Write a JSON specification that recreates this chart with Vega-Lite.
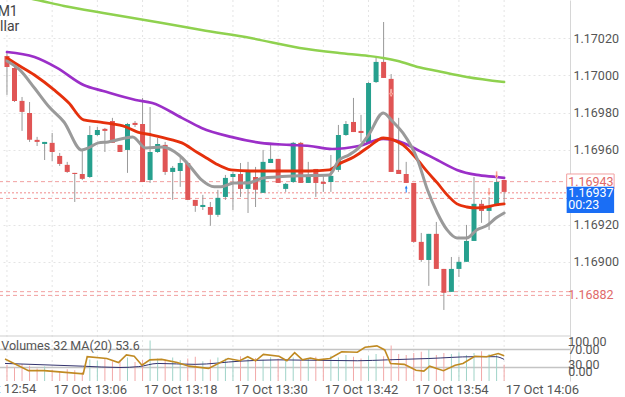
{
"$schema": "https://vega.github.io/schema/vega-lite/v6.json",
"width": 570, "height": 381,
"autosize": {"type": "none"},
"padding": {"left": 0, "top": 0, "right": 55, "bottom": 16},
"background": "white",
"config": {"view": {"stroke": null}, "font": "Roboto", "axis": {"labelFont": "Roboto"}, "text": {"font": "Roboto"}},
"datasets": {
"candles": [
{"i":0,"o":1.170104,"h":1.170120,"l":1.169895,"c":1.170045,"v":36},
{"i":1,"o":1.170040,"h":1.170050,"l":1.169857,"c":1.169863,"v":30},
{"i":2,"o":1.169863,"h":1.169884,"l":1.169702,"c":1.169804,"v":38},
{"i":3,"o":1.169798,"h":1.169857,"l":1.169643,"c":1.169654,"v":34},
{"i":4,"o":1.169654,"h":1.169670,"l":1.169621,"c":1.169643,"v":28},
{"i":5,"o":1.169632,"h":1.169643,"l":1.169546,"c":1.169643,"v":32},
{"i":6,"o":1.169638,"h":1.169691,"l":1.169541,"c":1.169589,"v":25},
{"i":7,"o":1.169568,"h":1.169584,"l":1.169514,"c":1.169525,"v":22},
{"i":8,"o":1.169520,"h":1.169536,"l":1.169477,"c":1.169482,"v":26},
{"i":9,"o":1.169477,"h":1.169477,"l":1.169321,"c":1.169471,"v":24},
{"i":10,"o":1.169471,"h":1.169600,"l":1.169439,"c":1.169445,"v":20},
{"i":11,"o":1.169455,"h":1.169729,"l":1.169450,"c":1.169680,"v":48},
{"i":12,"o":1.169680,"h":1.169723,"l":1.169675,"c":1.169707,"v":45},
{"i":13,"o":1.169713,"h":1.169718,"l":1.169589,"c":1.169702,"v":50},
{"i":14,"o":1.169755,"h":1.169772,"l":1.169638,"c":1.169638,"v":44},
{"i":15,"o":1.169627,"h":1.169627,"l":1.169589,"c":1.169589,"v":46},
{"i":16,"o":1.169600,"h":1.169745,"l":1.169477,"c":1.169739,"v":52},
{"i":17,"o":1.169745,"h":1.169755,"l":1.169723,"c":1.169734,"v":42},
{"i":18,"o":1.169739,"h":1.169879,"l":1.169428,"c":1.169428,"v":47},
{"i":19,"o":1.169439,"h":1.169830,"l":1.169423,"c":1.169589,"v":90},
{"i":20,"o":1.169589,"h":1.169664,"l":1.169584,"c":1.169632,"v":50},
{"i":21,"o":1.169627,"h":1.169643,"l":1.169466,"c":1.169482,"v":48},
{"i":22,"o":1.169482,"h":1.169514,"l":1.169332,"c":1.169504,"v":52},
{"i":23,"o":1.169487,"h":1.169562,"l":1.169402,"c":1.169530,"v":46},
{"i":24,"o":1.169530,"h":1.169530,"l":1.169332,"c":1.169332,"v":50},
{"i":25,"o":1.169332,"h":1.169332,"l":1.169268,"c":1.169300,"v":54},
{"i":26,"o":1.169294,"h":1.169359,"l":1.169278,"c":1.169305,"v":44},
{"i":27,"o":1.169294,"h":1.169321,"l":1.169193,"c":1.169252,"v":48},
{"i":28,"o":1.169252,"h":1.169386,"l":1.169241,"c":1.169343,"v":52},
{"i":29,"o":1.169348,"h":1.169466,"l":1.169332,"c":1.169450,"v":50},
{"i":30,"o":1.169455,"h":1.169482,"l":1.169278,"c":1.169471,"v":46},
{"i":31,"o":1.169471,"h":1.169530,"l":1.169348,"c":1.169391,"v":55},
{"i":32,"o":1.169391,"h":1.169536,"l":1.169262,"c":1.169482,"v":49},
{"i":33,"o":1.169455,"h":1.169509,"l":1.169294,"c":1.169386,"v":51},
{"i":34,"o":1.169370,"h":1.169600,"l":1.169370,"c":1.169536,"v":47},
{"i":35,"o":1.169530,"h":1.169638,"l":1.169530,"c":1.169552,"v":53},
{"i":36,"o":1.169552,"h":1.169552,"l":1.169423,"c":1.169423,"v":50},
{"i":37,"o":1.169391,"h":1.169423,"l":1.169375,"c":1.169418,"v":48},
{"i":38,"o":1.169428,"h":1.169643,"l":1.169423,"c":1.169638,"v":52},
{"i":39,"o":1.169638,"h":1.169643,"l":1.169423,"c":1.169423,"v":46},
{"i":40,"o":1.169423,"h":1.169536,"l":1.169423,"c":1.169466,"v":50},
{"i":41,"o":1.169498,"h":1.169498,"l":1.169348,"c":1.169423,"v":54},
{"i":42,"o":1.169428,"h":1.169466,"l":1.169375,"c":1.169418,"v":50},
{"i":43,"o":1.169428,"h":1.169573,"l":1.169375,"c":1.169461,"v":56},
{"i":44,"o":1.169493,"h":1.169734,"l":1.169482,"c":1.169680,"v":52},
{"i":45,"o":1.169680,"h":1.169755,"l":1.169675,"c":1.169739,"v":58},
{"i":46,"o":1.169750,"h":1.169879,"l":1.169696,"c":1.169696,"v":54},
{"i":47,"o":1.169702,"h":1.169788,"l":1.169643,"c":1.169691,"v":50},
{"i":48,"o":1.169638,"h":1.169964,"l":1.169638,"c":1.169959,"v":56},
{"i":49,"o":1.169964,"h":1.170098,"l":1.169959,"c":1.170072,"v":60},
{"i":50,"o":1.170072,"h":1.170286,"l":1.169986,"c":1.169986,"v":55},
{"i":51,"o":1.169981,"h":1.170007,"l":1.169482,"c":1.169482,"v":79},
{"i":52,"o":1.169493,"h":1.169772,"l":1.169471,"c":1.169471,"v":60},
{"i":53,"o":1.169471,"h":1.169536,"l":1.169423,"c":1.169423,"v":58},
{"i":54,"o":1.169423,"h":1.169423,"l":1.169102,"c":1.169107,"v":62},
{"i":55,"o":1.169107,"h":1.169155,"l":1.169000,"c":1.169010,"v":65},
{"i":56,"o":1.169010,"h":1.169150,"l":1.168871,"c":1.169150,"v":70},
{"i":57,"o":1.169150,"h":1.169214,"l":1.168962,"c":1.168962,"v":58},
{"i":58,"o":1.168962,"h":1.168962,"l":1.168742,"c":1.168834,"v":62},
{"i":59,"o":1.168839,"h":1.169026,"l":1.168839,"c":1.168962,"v":60},
{"i":60,"o":1.168962,"h":1.169026,"l":1.168919,"c":1.169000,"v":64},
{"i":61,"o":1.169000,"h":1.169198,"l":1.169000,"c":1.169112,"v":58},
{"i":62,"o":1.169112,"h":1.169455,"l":1.169112,"c":1.169311,"v":62},
{"i":63,"o":1.169311,"h":1.169332,"l":1.169209,"c":1.169273,"v":66},
{"i":64,"o":1.169273,"h":1.169348,"l":1.169171,"c":1.169300,"v":60},
{"i":65,"o":1.169300,"h":1.169477,"l":1.169300,"c":1.169428,"v":58},
{"i":66,"o":1.169439,"h":1.169439,"l":1.169316,"c":1.169375,"v":36}
],
"ma": [
{"s":"ma200","i":0,"p":1.170436},{"s":"ma200","i":4.04,"p":1.170404},{"s":"ma200","i":7.57,"p":1.170372},{"s":"ma200","i":12.78,"p":1.170334},{"s":"ma200","i":20.61,"p":1.170281},{"s":"ma200","i":25.83,"p":1.170243},{"s":"ma200","i":32.35,"p":1.170200},{"s":"ma200","i":38.87,"p":1.170147},{"s":"ma200","i":44.09,"p":1.170120},{"s":"ma200","i":48.0,"p":1.170104},{"s":"ma200","i":49.95,"p":1.170093},{"s":"ma200","i":51.91,"p":1.170077},{"s":"ma200","i":54.52,"p":1.170045},{"s":"ma200","i":57.13,"p":1.170023},{"s":"ma200","i":61.04,"p":1.169991},{"s":"ma200","i":66,"p":1.169964},
{"s":"ma50","i":0,"p":1.170125},{"s":"ma50","i":3.65,"p":1.170098},{"s":"ma50","i":6.65,"p":1.170040},{"s":"ma50","i":10.17,"p":1.169948},{"s":"ma50","i":12.78,"p":1.169916},{"s":"ma50","i":17.09,"p":1.169868},{"s":"ma50","i":19.30,"p":1.169852},{"s":"ma50","i":23.22,"p":1.169772},{"s":"ma50","i":25.83,"p":1.169718},{"s":"ma50","i":29.74,"p":1.169670},{"s":"ma50","i":33.65,"p":1.169638},{"s":"ma50","i":37.56,"p":1.169627},{"s":"ma50","i":40.17,"p":1.169621},{"s":"ma50","i":43.17,"p":1.169605},{"s":"ma50","i":46.69,"p":1.169621},{"s":"ma50","i":49.95,"p":1.169659},{"s":"ma50","i":51.91,"p":1.169648},{"s":"ma50","i":54.52,"p":1.169600},{"s":"ma50","i":57.13,"p":1.169546},{"s":"ma50","i":59.74,"p":1.169493},{"s":"ma50","i":62.35,"p":1.169466},{"s":"ma50","i":64.95,"p":1.169455},{"s":"ma50","i":66,"p":1.169450},
{"s":"ma20","i":0,"p":1.170093},{"s":"ma20","i":1.04,"p":1.170066},{"s":"ma20","i":3.65,"p":1.170002},{"s":"ma20","i":6.26,"p":1.169922},{"s":"ma20","i":8.22,"p":1.169852},{"s":"ma20","i":10.17,"p":1.169761},{"s":"ma20","i":12.13,"p":1.169750},{"s":"ma20","i":14.09,"p":1.169739},{"s":"ma20","i":15.39,"p":1.169729},{"s":"ma20","i":17.35,"p":1.169696},{"s":"ma20","i":19.30,"p":1.169680},{"s":"ma20","i":21.91,"p":1.169654},{"s":"ma20","i":23.22,"p":1.169638},{"s":"ma20","i":25.17,"p":1.169589},{"s":"ma20","i":26.48,"p":1.169557},{"s":"ma20","i":27.78,"p":1.169525},{"s":"ma20","i":29.74,"p":1.169493},{"s":"ma20","i":32.35,"p":1.169487},{"s":"ma20","i":34.96,"p":1.169487},{"s":"ma20","i":37.56,"p":1.169487},{"s":"ma20","i":40.17,"p":1.169487},{"s":"ma20","i":42.78,"p":1.169493},{"s":"ma20","i":44.09,"p":1.169525},{"s":"ma20","i":46.04,"p":1.169562},{"s":"ma20","i":48.0,"p":1.169616},{"s":"ma20","i":49.95,"p":1.169664},{"s":"ma20","i":51.26,"p":1.169654},{"s":"ma20","i":52.56,"p":1.169627},{"s":"ma20","i":54.52,"p":1.169546},{"s":"ma20","i":55.82,"p":1.169482},{"s":"ma20","i":57.13,"p":1.169423},{"s":"ma20","i":58.43,"p":1.169359},{"s":"ma20","i":59.74,"p":1.169311},{"s":"ma20","i":61.04,"p":1.169294},{"s":"ma20","i":62.35,"p":1.169289},{"s":"ma20","i":63.65,"p":1.169294},{"s":"ma20","i":64.95,"p":1.169305},{"s":"ma20","i":66,"p":1.169311},
{"s":"ma5","i":0,"p":1.170077},{"s":"ma5","i":1.70,"p":1.170029},{"s":"ma5","i":3.65,"p":1.169932},{"s":"ma5","i":5.61,"p":1.169830},{"s":"ma5","i":7.57,"p":1.169750},{"s":"ma5","i":9.91,"p":1.169600},{"s":"ma5","i":10.83,"p":1.169611},{"s":"ma5","i":12.13,"p":1.169638},{"s":"ma5","i":13.43,"p":1.169643},{"s":"ma5","i":16.69,"p":1.169670},{"s":"ma5","i":18.39,"p":1.169611},{"s":"ma5","i":20.61,"p":1.169616},{"s":"ma5","i":22.83,"p":1.169573},{"s":"ma5","i":24.13,"p":1.169520},{"s":"ma5","i":25.83,"p":1.169439},{"s":"ma5","i":27.52,"p":1.169402},{"s":"ma5","i":28.43,"p":1.169402},{"s":"ma5","i":30.13,"p":1.169423},{"s":"ma5","i":31.96,"p":1.169423},{"s":"ma5","i":34.04,"p":1.169450},{"s":"ma5","i":35.87,"p":1.169455},{"s":"ma5","i":38.87,"p":1.169461},{"s":"ma5","i":42.78,"p":1.169466},{"s":"ma5","i":44.09,"p":1.169546},{"s":"ma5","i":45.39,"p":1.169573},{"s":"ma5","i":46.69,"p":1.169611},{"s":"ma5","i":48.0,"p":1.169680},{"s":"ma5","i":49.95,"p":1.169798},{"s":"ma5","i":51.26,"p":1.169750},{"s":"ma5","i":52.56,"p":1.169691},{"s":"ma5","i":54.52,"p":1.169546},{"s":"ma5","i":55.82,"p":1.169386},{"s":"ma5","i":57.13,"p":1.169262},{"s":"ma5","i":58.43,"p":1.169171},{"s":"ma5","i":59.74,"p":1.169128},{"s":"ma5","i":61.04,"p":1.169128},{"s":"ma5","i":62.35,"p":1.169171},{"s":"ma5","i":63.65,"p":1.169193},{"s":"ma5","i":64.95,"p":1.169236},{"s":"ma5","i":66,"p":1.169262}
],
"vline": [
{"i":-0.26,"v":49},{"i":2.86,"v":23},{"i":4.93,"v":23},{"i":10.13,"v":16},{"i":10.65,"v":54},{"i":13.25,"v":50},{"i":14.81,"v":41},{"i":15.85,"v":58},{"i":16.89,"v":55},{"i":17.92,"v":35},{"i":18.97,"v":47},{"i":20.53,"v":48},{"i":22.60,"v":41},{"i":24.17,"v":33},{"i":26.76,"v":28},{"i":29.36,"v":50},{"i":30.91,"v":45},{"i":31.96,"v":54},{"i":33.0,"v":45},{"i":34.04,"v":59},{"i":36.11,"v":55},{"i":37.16,"v":45},{"i":38.19,"v":63},{"i":39.23,"v":47},{"i":40.27,"v":51},{"i":41.31,"v":47},{"i":42.87,"v":50},{"i":44.43,"v":65},{"i":46.51,"v":64},{"i":47.54,"v":75},{"i":49.11,"v":78},{"i":50.15,"v":69},{"i":50.92,"v":39},{"i":52.74,"v":37},{"i":54.30,"v":24},{"i":55.34,"v":22},{"i":56.12,"v":33},{"i":57.94,"v":23},{"i":59.50,"v":35},{"i":60.53,"v":39},{"i":62.10,"v":55},{"i":63.65,"v":54},{"i":65.22,"v":61},{"i":66,"v":56}
],
"vma": [
{"i":-0.26,"v":39},{"i":10,"v":33},{"i":15,"v":30},{"i":17.5,"v":32},{"i":20,"v":39},{"i":25,"v":37},{"i":30.9,"v":44},{"i":36,"v":47},{"i":46.5,"v":45},{"i":50.5,"v":47},{"i":56,"v":50},{"i":62,"v":54},{"i":64.9,"v":54},{"i":66,"v":48}
],
"grid": [{"g":0},{"g":6},{"g":12},{"g":18},{"g":24},{"g":30},{"g":36},{"g":42},{"g":48},{"g":54},{"g":60},{"g":66}]
},
"resolve": {"scale": {"y": "independent"}},
"layer": [
{"layer": [
 {"data": {"name": "grid"}, "mark": {"type": "rule", "color": "#e4e4e4", "strokeDash": [2, 3], "strokeWidth": 1},
  "encoding": {"x": {"field": "g", "type": "quantitative", "title": null,
    "scale": {"domain": [-0.261, 74.08], "nice": false, "zero": false},
    "axis": {"values": [6, 18, 30, 42, 54, 66], "labelExpr": "['17 Oct 13:06','17 Oct 13:18','17 Oct 13:30','17 Oct 13:42','17 Oct 13:54','17 Oct 14:06'][round((datum.value-6)/12)]",
      "labelAlign": "left", "labelOffset": 1,
      "grid": false, "ticks": false, "domain": false, "labelFlush": false, "labelOverlap": false, "labelBound": false, "labelColor": "#555", "labelFontSize": 13, "labelPadding": 2}}}},
 {"data": {"values": [{"p": 1.16943}, {"p": 1.16934}, {"p": 1.16884}, {"p": 1.16882}]},
  "mark": {"type": "rule", "color": "#f2a0a0", "strokeDash": [4, 3], "strokeWidth": 1},
  "encoding": {"y": {"field": "p", "type": "quantitative", "title": null,
    "scale": {"domain": [1.168361, 1.170404], "nice": false, "zero": false},
    "axis": {"orient": "right", "values": [1.1702, 1.17, 1.1698, 1.1696, 1.1692, 1.169], "format": ".5f", "grid": true, "gridDash": [2, 3], "gridColor": "#e4e4e4",
      "ticks": false, "domain": true, "domainColor": "#d6d6d6", "labelColor": "#555", "labelFontSize": 12.5, "labelPadding": 3, "labelOverlap": false, "labelFlush": false}}}},
 {"data": {"values": [{"p": 1.16937}]},
  "mark": {"type": "rule", "color": "#f08a8a", "strokeDash": [2, 2], "strokeWidth": 1},
  "encoding": {"y": {"field": "p", "type": "quantitative", "title": null}}},
 {"data": {"name": "candles"}, "mark": {"type": "rule", "color": "#999999", "strokeWidth": 1},
  "encoding": {"x": {"field": "i", "type": "quantitative", "title": null}, "y": {"field": "l", "type": "quantitative", "title": null}, "y2": {"field": "h"}}},
 {"data": {"name": "candles"}, "mark": {"type": "bar", "width": 5},
  "encoding": {"x": {"field": "i", "type": "quantitative", "title": null}, "y": {"field": "o", "type": "quantitative", "title": null}, "y2": {"field": "c"},
   "color": {"condition": {"test": "datum.o > datum.c", "value": "#e05555"}, "value": "#26a08e"}}},
 {"data": {"name": "ma"}, "mark": {"type": "line", "interpolate": "monotone", "clip": true, "strokeCap": "round"},
  "encoding": {"x": {"field": "i", "type": "quantitative", "title": null}, "y": {"field": "p", "type": "quantitative", "title": null},
   "color": {"field": "s", "type": "nominal", "legend": null, "scale": {"domain": ["ma200", "ma50", "ma20", "ma5"], "range": ["#8fd14f", "#9b2fc8", "#e5300c", "#9a9a9a"]}},
   "strokeWidth": {"field": "s", "type": "nominal", "legend": null, "scale": {"domain": ["ma200", "ma50", "ma20", "ma5"], "range": [2.5, 3, 3.5, 3]}}}},
 {"data": {"values": [{"i": 51, "p": 1.169906}, {"i": 64, "p": 1.169375}, {"i": 65, "p": 1.169466}]},
  "mark": {"type": "point", "shape": "arrow", "angle": 180, "filled": true, "color": "#f0503c", "stroke": "#ffc8c0", "strokeWidth": 0.8, "size": 50, "opacity": 1},
  "encoding": {"x": {"field": "i", "type": "quantitative", "title": null}, "y": {"field": "p", "type": "quantitative", "title": null}}},
 {"data": {"values": [{"i": 53, "p": 1.169391}]},
  "mark": {"type": "point", "shape": "arrow", "filled": true, "color": "#1e7cf0", "size": 50, "opacity": 1},
  "encoding": {"x": {"field": "i", "type": "quantitative", "title": null}, "y": {"field": "p", "type": "quantitative", "title": null}}},
 {"data": {"values": [{"a": 74.3, "b": 80.6, "p1": 1.169471, "p2": 1.169391}]},
  "mark": {"type": "rect", "fill": "white", "stroke": "#f2a0a0", "strokeWidth": 1, "clip": false},
  "encoding": {"x": {"field": "a", "type": "quantitative", "title": null}, "x2": {"field": "b"}, "y": {"field": "p1", "type": "quantitative", "title": null}, "y2": {"field": "p2"}}},
 {"data": {"values": [{"a": 74.3, "b": 80.6, "p1": 1.169402, "p2": 1.169262}]},
  "mark": {"type": "rect", "fill": "#1a6ef5", "clip": false},
  "encoding": {"x": {"field": "a", "type": "quantitative", "title": null}, "x2": {"field": "b"}, "y": {"field": "p1", "type": "quantitative", "title": null}, "y2": {"field": "p2"}}},
 {"data": {"values": [{"a": 74.5, "p": 1.16943, "t": "1.16943"}, {"a": 74.5, "p": 1.16882, "t": "1.16882"}]},
  "mark": {"type": "text", "align": "left", "baseline": "middle", "color": "#e06a6a", "fontSize": 12.5, "clip": false},
  "encoding": {"x": {"field": "a", "type": "quantitative", "title": null}, "y": {"field": "p", "type": "quantitative", "title": null}, "text": {"field": "t", "type": "nominal"}}},
 {"data": {"values": [{"a": 74.5, "p": 1.169369, "t": "1.16937"}, {"a": 74.5, "p": 1.169305, "t": "00:23"}]},
  "mark": {"type": "text", "align": "left", "baseline": "middle", "color": "white", "fontSize": 12.5, "clip": false},
  "encoding": {"x": {"field": "a", "type": "quantitative", "title": null}, "y": {"field": "p", "type": "quantitative", "title": null}, "text": {"field": "t", "type": "nominal"}}},
 {"data": {"values": [{"a": 1.43, "p": 1.170340, "t": "EURUSD, M1"}, {"a": 1.63, "p": 1.170260, "t": "Euro vs US Dollar"}]},
  "mark": {"type": "text", "align": "right", "baseline": "middle", "color": "#444", "fontSize": 14, "clip": true},
  "encoding": {"x": {"field": "a", "type": "quantitative", "title": null}, "y": {"field": "p", "type": "quantitative", "title": null}, "text": {"field": "t", "type": "nominal"}}}
]},
{"layer": [
 {"data": {"values": [{"lv": 100}]}, "mark": {"type": "rule", "color": "#cfcfcf", "strokeWidth": 1},
  "encoding": {"y": {"field": "lv", "type": "quantitative", "title": null,
    "scale": {"domain": [0, 846.67], "nice": false, "zero": false}, "axis": null}}},
 {"data": {"values": [{"lv": 70}, {"lv": 30}]}, "mark": {"type": "rule", "color": "#c4c4c4", "strokeWidth": 1.5},
  "encoding": {"y": {"field": "lv", "type": "quantitative", "title": null, "axis": null}}},
 {"data": {"name": "candles"}, "mark": {"type": "bar", "width": 1},
  "encoding": {"x": {"field": "i", "type": "quantitative", "title": null}, "y": {"field": "v", "type": "quantitative", "title": null, "axis": null},
   "color": {"condition": {"test": "datum.o > datum.c", "value": "#f2a8a8"}, "value": "#9fd3c8"}}},
 {"data": {"name": "vma"}, "mark": {"type": "line", "color": "#33336e", "strokeWidth": 1, "interpolate": "monotone", "clip": true},
  "encoding": {"x": {"field": "i", "type": "quantitative", "title": null}, "y": {"field": "v", "type": "quantitative", "title": null, "axis": null}}},
 {"data": {"name": "vline"}, "mark": {"type": "line", "color": "#c08a22", "strokeWidth": 1.6, "interpolate": "linear", "clip": true},
  "encoding": {"x": {"field": "i", "type": "quantitative", "title": null}, "y": {"field": "v", "type": "quantitative", "title": null, "axis": null}}},
 {"data": {"values": [{"a": -0.75, "v": 77.8, "t": "Volumes 32 MA(20) 53.6"}]},
  "mark": {"type": "text", "align": "left", "baseline": "middle", "color": "#555", "fontSize": 12.5, "clip": true},
  "encoding": {"x": {"field": "a", "type": "quantitative", "title": null}, "y": {"field": "v", "type": "quantitative", "title": null, "axis": null}, "text": {"field": "t", "type": "nominal"}}},
 {"data": {"values": [{"a": 74.5, "v": 86.7, "t": "100.00"}, {"a": 74.5, "v": 68.9, "t": "70.00"}, {"a": 74.5, "v": 35.6, "t": "30.00"}, {"a": 74.5, "v": 18.9, "t": "0.00"}]},
  "mark": {"type": "text", "align": "left", "baseline": "middle", "color": "#555", "fontSize": 12.5, "clip": false},
  "encoding": {"x": {"field": "a", "type": "quantitative", "title": null}, "y": {"field": "v", "type": "quantitative", "title": null, "axis": null}, "text": {"field": "t", "type": "nominal"}}},
 {"data": {"values": [{"a": -6, "v": -4.44, "t": "17 Oct 12:54"}]},
  "mark": {"type": "text", "align": "left", "baseline": "top", "dx": 1, "color": "#555", "fontSize": 13, "clip": false},
  "encoding": {"x": {"field": "a", "type": "quantitative", "title": null}, "y": {"field": "v", "type": "quantitative", "title": null, "axis": null}, "text": {"field": "t", "type": "nominal"}}}
]}
]
}
